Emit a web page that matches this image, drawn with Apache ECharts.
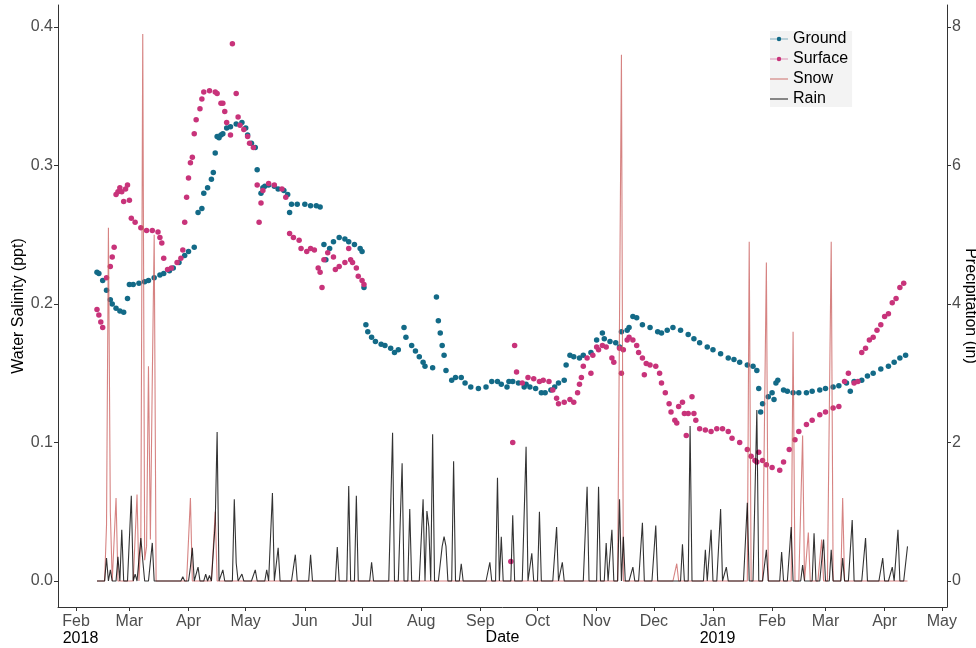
<!DOCTYPE html>
<html>
<head>
<meta charset="utf-8">
<title>Water salinity and precipitation</title>
<script src="https://cdn.jsdelivr.net/npm/echarts@6/dist/echarts.min.js"></script>
<style>
  html, body { margin: 0; padding: 0; background: #fff; }
  #chart { width: 976px; height: 648px; }
</style>
</head>
<body>
<div id="chart"></div>
<script>
// salinity readings (ppt)
const groundData = [
  ['2018-02-12', 0.223], ['2018-02-13', 0.222], ['2018-02-15', 0.217], ['2018-02-17', 0.210],
  ['2018-02-19', 0.203], ['2018-02-20', 0.200], ['2018-02-22', 0.197], ['2018-02-24', 0.195],
  ['2018-02-26', 0.194], ['2018-02-28', 0.204], ['2018-03-01', 0.214], ['2018-03-03', 0.214],
  ['2018-03-06', 0.215], ['2018-03-09', 0.216], ['2018-03-11', 0.217], ['2018-03-14', 0.219],
  ['2018-03-17', 0.221], ['2018-03-19', 0.222], ['2018-03-22', 0.224], ['2018-03-24', 0.226],
  ['2018-03-27', 0.230], ['2018-03-30', 0.235], ['2018-04-01', 0.238], ['2018-04-04', 0.241],
  ['2018-04-06', 0.266], ['2018-04-08', 0.269], ['2018-04-09', 0.280], ['2018-04-11', 0.284],
  ['2018-04-13', 0.290], ['2018-04-14', 0.295], ['2018-04-15', 0.309], ['2018-04-16', 0.321],
  ['2018-04-17', 0.320], ['2018-04-18', 0.322], ['2018-04-19', 0.323], ['2018-04-21', 0.327],
  ['2018-04-23', 0.328], ['2018-04-26', 0.330], ['2018-04-29', 0.331], ['2018-05-01', 0.327],
  ['2018-05-02', 0.322], ['2018-05-04', 0.316], ['2018-05-06', 0.313], ['2018-05-07', 0.297],
  ['2018-05-09', 0.280], ['2018-05-10', 0.284], ['2018-05-11', 0.285], ['2018-05-13', 0.286],
  ['2018-05-16', 0.285], ['2018-05-18', 0.283], ['2018-05-21', 0.282], ['2018-05-23', 0.279],
  ['2018-05-24', 0.266], ['2018-05-25', 0.272], ['2018-05-28', 0.272], ['2018-06-01', 0.272],
  ['2018-06-04', 0.271], ['2018-06-07', 0.271], ['2018-06-09', 0.270], ['2018-06-11', 0.243],
  ['2018-06-12', 0.232], ['2018-06-14', 0.240], ['2018-06-16', 0.245], ['2018-06-19', 0.248],
  ['2018-06-22', 0.247], ['2018-06-24', 0.245], ['2018-06-27', 0.243], ['2018-06-30', 0.240],
  ['2018-07-01', 0.238], ['2018-07-02', 0.212], ['2018-07-03', 0.185], ['2018-07-04', 0.180],
  ['2018-07-06', 0.176], ['2018-07-08', 0.173], ['2018-07-11', 0.171], ['2018-07-13', 0.170],
  ['2018-07-16', 0.168], ['2018-07-18', 0.165], ['2018-07-20', 0.167], ['2018-07-23', 0.183],
  ['2018-07-24', 0.176], ['2018-07-27', 0.170], ['2018-07-29', 0.166], ['2018-07-31', 0.162],
  ['2018-08-02', 0.158], ['2018-08-03', 0.155], ['2018-08-07', 0.154], ['2018-08-09', 0.205],
  ['2018-08-10', 0.188], ['2018-08-11', 0.179], ['2018-08-12', 0.170], ['2018-08-13', 0.163],
  ['2018-08-14', 0.152], ['2018-08-17', 0.145], ['2018-08-19', 0.147], ['2018-08-22', 0.147],
  ['2018-08-24', 0.143], ['2018-08-27', 0.140], ['2018-08-31', 0.139], ['2018-09-04', 0.140],
  ['2018-09-07', 0.144], ['2018-09-10', 0.144], ['2018-09-12', 0.142], ['2018-09-15', 0.140],
  ['2018-09-16', 0.144], ['2018-09-18', 0.144], ['2018-09-21', 0.143], ['2018-09-24', 0.140],
  ['2018-09-25', 0.142], ['2018-09-27', 0.140], ['2018-09-30', 0.139], ['2018-10-03', 0.136],
  ['2018-10-05', 0.136], ['2018-10-08', 0.138], ['2018-10-10', 0.140], ['2018-10-12', 0.143],
  ['2018-10-15', 0.145], ['2018-10-16', 0.156], ['2018-10-18', 0.163], ['2018-10-20', 0.162],
  ['2018-10-23', 0.161], ['2018-10-25', 0.163], ['2018-10-29', 0.165], ['2018-11-01', 0.174],
  ['2018-11-04', 0.179], ['2018-11-05', 0.175], ['2018-11-08', 0.173], ['2018-11-11', 0.172],
  ['2018-11-13', 0.169], ['2018-11-14', 0.180], ['2018-11-17', 0.181], ['2018-11-18', 0.183],
  ['2018-11-20', 0.191], ['2018-11-22', 0.190], ['2018-11-25', 0.185], ['2018-11-29', 0.183],
  ['2018-12-03', 0.180], ['2018-12-05', 0.179], ['2018-12-08', 0.181], ['2018-12-11', 0.183],
  ['2018-12-15', 0.181], ['2018-12-19', 0.178], ['2018-12-22', 0.175], ['2018-12-25', 0.172],
  ['2018-12-29', 0.169], ['2019-01-01', 0.167], ['2019-01-05', 0.164], ['2019-01-09', 0.161],
  ['2019-01-12', 0.160], ['2019-01-15', 0.158], ['2019-01-19', 0.156], ['2019-01-22', 0.155],
  ['2019-01-24', 0.152], ['2019-01-25', 0.139], ['2019-01-26', 0.122], ['2019-01-27', 0.128],
  ['2019-01-30', 0.133], ['2019-02-01', 0.136], ['2019-02-02', 0.131], ['2019-02-03', 0.143],
  ['2019-02-04', 0.145], ['2019-02-07', 0.138], ['2019-02-09', 0.137], ['2019-02-12', 0.136],
  ['2019-02-15', 0.136], ['2019-02-19', 0.136], ['2019-02-22', 0.137], ['2019-02-26', 0.138],
  ['2019-03-01', 0.139], ['2019-03-05', 0.140], ['2019-03-08', 0.141], ['2019-03-12', 0.143],
  ['2019-03-14', 0.137], ['2019-03-16', 0.144], ['2019-03-20', 0.145], ['2019-03-23', 0.148],
  ['2019-03-26', 0.150], ['2019-03-30', 0.153], ['2019-04-03', 0.155], ['2019-04-06', 0.158],
  ['2019-04-09', 0.161], ['2019-04-12', 0.163]
];

const surfaceData = [
  ['2018-02-12', 0.196], ['2018-02-13', 0.192], ['2018-02-14', 0.187], ['2018-02-15', 0.183],
  ['2018-02-17', 0.219], ['2018-02-19', 0.227], ['2018-02-20', 0.234], ['2018-02-21', 0.241],
  ['2018-02-22', 0.279], ['2018-02-23', 0.281], ['2018-02-24', 0.284], ['2018-02-25', 0.281],
  ['2018-02-26', 0.274], ['2018-02-27', 0.283], ['2018-02-28', 0.286], ['2018-03-01', 0.275],
  ['2018-03-02', 0.262], ['2018-03-04', 0.259], ['2018-03-07', 0.255], ['2018-03-10', 0.253],
  ['2018-03-13', 0.253], ['2018-03-16', 0.252], ['2018-03-17', 0.248], ['2018-03-18', 0.244],
  ['2018-03-19', 0.233], ['2018-03-21', 0.225], ['2018-03-23', 0.226], ['2018-03-26', 0.230],
  ['2018-03-28', 0.233], ['2018-03-29', 0.239], ['2018-03-30', 0.259], ['2018-03-31', 0.277],
  ['2018-04-01', 0.291], ['2018-04-02', 0.302], ['2018-04-03', 0.306], ['2018-04-04', 0.323],
  ['2018-04-05', 0.333], ['2018-04-07', 0.341], ['2018-04-08', 0.348], ['2018-04-09', 0.353],
  ['2018-04-12', 0.354], ['2018-04-15', 0.353], ['2018-04-16', 0.352], ['2018-04-18', 0.345],
  ['2018-04-19', 0.345], ['2018-04-20', 0.339], ['2018-04-21', 0.331], ['2018-04-23', 0.322],
  ['2018-04-24', 0.388], ['2018-04-26', 0.352], ['2018-04-27', 0.335], ['2018-04-28', 0.329],
  ['2018-04-30', 0.326], ['2018-05-02', 0.321], ['2018-05-03', 0.316], ['2018-05-05', 0.313],
  ['2018-05-07', 0.286], ['2018-05-08', 0.259], ['2018-05-09', 0.273], ['2018-05-10', 0.282],
  ['2018-05-13', 0.287], ['2018-05-16', 0.286], ['2018-05-20', 0.283], ['2018-05-22', 0.277],
  ['2018-05-24', 0.251], ['2018-05-26', 0.248], ['2018-05-29', 0.246], ['2018-05-30', 0.240],
  ['2018-06-02', 0.238], ['2018-06-04', 0.240], ['2018-06-06', 0.239], ['2018-06-08', 0.226],
  ['2018-06-09', 0.223], ['2018-06-10', 0.212], ['2018-06-11', 0.232], ['2018-06-13', 0.237],
  ['2018-06-16', 0.234], ['2018-06-17', 0.225], ['2018-06-19', 0.227], ['2018-06-22', 0.230],
  ['2018-06-24', 0.240], ['2018-06-25', 0.232], ['2018-06-26', 0.230], ['2018-06-28', 0.226],
  ['2018-06-29', 0.220], ['2018-07-01', 0.217], ['2018-07-02', 0.214],
  ['2018-09-17', 0.014], ['2018-09-18', 0.100], ['2018-09-19', 0.170], ['2018-09-20', 0.151],
  ['2018-09-23', 0.143], ['2018-09-26', 0.147], ['2018-09-29', 0.146], ['2018-10-02', 0.144],
  ['2018-10-04', 0.145], ['2018-10-07', 0.144], ['2018-10-09', 0.138], ['2018-10-11', 0.132],
  ['2018-10-12', 0.128], ['2018-10-15', 0.129], ['2018-10-18', 0.131], ['2018-10-20', 0.129],
  ['2018-10-22', 0.136], ['2018-10-23', 0.142], ['2018-10-24', 0.147], ['2018-10-25', 0.155],
  ['2018-10-27', 0.161], ['2018-10-29', 0.150], ['2018-10-30', 0.163], ['2018-11-01', 0.169],
  ['2018-11-02', 0.167], ['2018-11-04', 0.170], ['2018-11-06', 0.169], ['2018-11-09', 0.161],
  ['2018-11-10', 0.158], ['2018-11-13', 0.168], ['2018-11-14', 0.150], ['2018-11-15', 0.167],
  ['2018-11-17', 0.174], ['2018-11-18', 0.176], ['2018-11-20', 0.174], ['2018-11-22', 0.170],
  ['2018-11-23', 0.165], ['2018-11-25', 0.161], ['2018-11-26', 0.149], ['2018-11-27', 0.157],
  ['2018-11-29', 0.156], ['2018-12-02', 0.155], ['2018-12-04', 0.150], ['2018-12-05', 0.143],
  ['2018-12-07', 0.136], ['2018-12-09', 0.128], ['2018-12-10', 0.122], ['2018-12-12', 0.116],
  ['2018-12-13', 0.114], ['2018-12-14', 0.126], ['2018-12-16', 0.129], ['2018-12-17', 0.121],
  ['2018-12-18', 0.105], ['2018-12-19', 0.121], ['2018-12-21', 0.133], ['2018-12-22', 0.121],
  ['2018-12-23', 0.116], ['2018-12-25', 0.110], ['2018-12-28', 0.109], ['2018-12-31', 0.108],
  ['2019-01-03', 0.110], ['2019-01-06', 0.110], ['2019-01-09', 0.108], ['2019-01-11', 0.103],
  ['2019-01-15', 0.100], ['2019-01-19', 0.095], ['2019-01-21', 0.090], ['2019-01-23', 0.087],
  ['2019-01-24', 0.086], ['2019-01-25', 0.093], ['2019-01-27', 0.087], ['2019-01-29', 0.084],
  ['2019-02-01', 0.082], ['2019-02-05', 0.080], ['2019-02-07', 0.086], ['2019-02-10', 0.095],
  ['2019-02-13', 0.102], ['2019-02-15', 0.108], ['2019-02-19', 0.113], ['2019-02-22', 0.116],
  ['2019-02-26', 0.120], ['2019-03-01', 0.122], ['2019-03-05', 0.125], ['2019-03-08', 0.126],
  ['2019-03-11', 0.144], ['2019-03-13', 0.150], ['2019-03-16', 0.143], ['2019-03-18', 0.144],
  ['2019-03-20', 0.165], ['2019-03-22', 0.168], ['2019-03-24', 0.174], ['2019-03-26', 0.176],
  ['2019-03-28', 0.181], ['2019-03-30', 0.185], ['2019-04-01', 0.191], ['2019-04-03', 0.193],
  ['2019-04-05', 0.201], ['2019-04-07', 0.204], ['2019-04-09', 0.212], ['2019-04-11', 0.215]
];

// precipitation (in) on the days that had any; every other day of the record reads 0
const snowDays = [
  ['2018-02-17', 0.8], ['2018-02-18', 5.1], ['2018-02-19', 1.0], ['2018-02-22', 1.2],
  ['2018-03-05', 1.25], ['2018-03-07', 0.6], ['2018-03-08', 7.9], ['2018-03-09', 0.3],
  ['2018-03-10', 0.5], ['2018-03-11', 3.1], ['2018-03-12', 0.6], ['2018-03-13', 2.9],
  ['2018-03-14', 5.0], ['2018-04-02', 1.2], ['2018-04-15', 1.0], ['2018-11-14', 7.6],
  ['2018-12-13', 0.25], ['2019-01-20', 4.9], ['2019-01-29', 4.6], ['2019-02-12', 3.6],
  ['2019-02-17', 2.1], ['2019-02-20', 0.7], ['2019-02-27', 0.6], ['2019-03-04', 4.9],
  ['2019-03-10', 1.2]
];

const rainDays = [
  ['2018-02-17', 0.33], ['2018-02-19', 0.16], ['2018-02-23', 0.35], ['2018-02-25', 0.74],
  ['2018-03-02', 1.23], ['2018-03-04', 0.1], ['2018-03-07', 0.62], ['2018-03-08', 0.3],
  ['2018-03-13', 0.55], ['2018-03-29', 0.06], ['2018-04-02', 0.2], ['2018-04-03', 0.48],
  ['2018-04-06', 0.2], ['2018-04-10', 0.1], ['2018-04-12', 0.08], ['2018-04-15', 0.84],
  ['2018-04-16', 2.15], ['2018-04-19', 0.16], ['2018-04-25', 1.18], ['2018-04-26', 0.26],
  ['2018-04-29', 0.1], ['2018-05-06', 0.16], ['2018-05-12', 0.16], ['2018-05-15', 1.27],
  ['2018-05-18', 0.48], ['2018-05-27', 0.38], ['2018-06-04', 0.38], ['2018-06-18', 0.49],
  ['2018-06-24', 1.37], ['2018-06-28', 1.23], ['2018-07-06', 0.27], ['2018-07-17', 2.14],
  ['2018-07-22', 1.7], ['2018-07-26', 1.04], ['2018-08-02', 1.18], ['2018-08-04', 1.01],
  ['2018-08-05', 0.78], ['2018-08-07', 2.12], ['2018-08-12', 0.5], ['2018-08-13', 0.64],
  ['2018-08-14', 0.5], ['2018-08-18', 1.73], ['2018-08-22', 0.25], ['2018-09-06', 0.27],
  ['2018-09-10', 1.49], ['2018-09-12', 0.64], ['2018-09-18', 0.95], ['2018-09-25', 1.94],
  ['2018-09-28', 0.4], ['2018-10-02', 1.0], ['2018-10-11', 0.78], ['2018-10-14', 0.27],
  ['2018-10-27', 1.36], ['2018-11-02', 1.36], ['2018-11-06', 0.55], ['2018-11-09', 0.74],
  ['2018-11-13', 1.18], ['2018-11-15', 0.64], ['2018-11-20', 0.2], ['2018-11-25', 0.84],
  ['2018-12-02', 0.8], ['2018-12-16', 0.53], ['2018-12-20', 2.24], ['2018-12-28', 0.45],
  ['2018-12-31', 0.74], ['2019-01-05', 1.04], ['2019-01-08', 0.2], ['2019-01-19', 1.13],
  ['2019-01-24', 2.47], ['2019-01-29', 0.45], ['2019-02-06', 0.42], ['2019-02-11', 0.78],
  ['2019-02-17', 0.23], ['2019-02-23', 0.69], ['2019-02-28', 0.6], ['2019-03-04', 0.45],
  ['2019-03-10', 0.33], ['2019-03-15', 0.88], ['2019-03-22', 0.62], ['2019-03-31', 0.33],
  ['2019-04-05', 0.2], ['2019-04-08', 0.74], ['2019-04-13', 0.5]
];

const recordStart = '2018-02-12';
const recordEnd = '2019-04-13';

// month ticks on the date axis
const xTickDates = [
  '2018-02-01', '2018-03-01', '2018-04-01', '2018-05-01', '2018-06-01', '2018-07-01',
  '2018-08-01', '2018-09-01', '2018-10-01', '2018-11-01', '2018-12-01', '2019-01-01',
  '2019-02-01', '2019-03-01', '2019-04-01', '2019-05-01'
];
const monthNames = ['Jan', 'Feb', 'Mar', 'Apr', 'May', 'Jun', 'Jul', 'Aug', 'Sep', 'Oct', 'Nov', 'Dec'];
const salinityTicks = [0, 0.1, 0.2, 0.3, 0.4];
const precipTicks = [0, 2, 4, 6, 8];

function toTime(s) {
  const p = s.split('-').map(Number);
  return new Date(p[0], p[1] - 1, p[2]).getTime();
}
function dayKey(d) {
  const m = String(d.getMonth() + 1).padStart(2, '0');
  const dd = String(d.getDate()).padStart(2, '0');
  return d.getFullYear() + '-' + m + '-' + dd;
}
function asPoints(list) {
  return list.map(function (r) { return [toTime(r[0]), r[1]]; });
}
// daily record: the listed days, 0 on the rest
function dailyRecord(list) {
  const byDay = {};
  list.forEach(function (r) { byDay[r[0]] = r[1]; });
  const out = [];
  const d = new Date(toTime(recordStart));
  const end = toTime(recordEnd);
  while (d.getTime() <= end) {
    const k = dayKey(d);
    out.push([d.getTime(), byDay[k] || 0]);
    d.setDate(d.getDate() + 1);
  }
  return out;
}

const font = 'Liberation Sans, Arial, sans-serif';
const tickGrey = '#4d4d4d';
const xTicks = xTickDates.map(toTime);

const dotIcon = 'path://M0,2.1H7.6V2.9H0Z M12.4,2.1H20V2.9H12.4Z M7.5,2.5A2.5,2.5,0,1,0,12.5,2.5A2.5,2.5,0,1,0,7.5,2.5Z';
const lineIcon = 'path://M0,0H20V1H0Z';

const chart = echarts.init(document.getElementById('chart'));
chart.setOption({
  animation: false,
  backgroundColor: '#fff',
  grid: { left: 58, right: 29, top: 5, bottom: 41, containLabel: false, outerBoundsMode: 'none' },
  legend: {
    orient: 'vertical',
    left: 770,
    top: 31,
    padding: [0, 4, 0, 0],
    backgroundColor: '#f3f3f3',
    itemWidth: 18,
    itemHeight: 14,
    itemGap: 4,
    textStyle: { fontFamily: font, fontSize: 16, color: '#000', lineHeight: 14 },
    data: [
      { name: 'Ground', icon: dotIcon },
      { name: 'Surface', icon: dotIcon },
      { name: 'Snow', icon: lineIcon },
      { name: 'Rain', icon: lineIcon }
    ]
  },
  xAxis: {
    type: 'value',
    min: toTime('2018-01-22') + 13.5 * 3600e3,
    max: toTime('2019-05-03') + 17 * 3600e3,
    name: 'Date',
    nameLocation: 'middle',
    nameGap: 22,
    nameMoveOverlap: false,
    nameTextStyle: { fontFamily: font, fontSize: 16, color: '#000', lineHeight: 17, verticalAlign: 'top' },
    axisLine: { show: true, onZero: false, lineStyle: { color: '#333', width: 1 } },
    axisTick: { show: true, length: 4, lineStyle: { color: '#333' }, customValues: xTicks },
    splitLine: { show: false },
    axisLabel: {
      customValues: xTicks,
      margin: 6,
      fontFamily: font,
      fontSize: 16,
      lineHeight: 17,
      color: tickGrey,
      formatter: function (value) {
        const d = new Date(value);
        const m = monthNames[d.getMonth()];
        if (d.getMonth() === 0 || value === xTicks[0]) {
          return m + '\n{y|' + d.getFullYear() + '}';
        }
        return m;
      },
      rich: {
        y: { fontFamily: font, fontSize: 16, lineHeight: 17, color: '#000', padding: [0, 0, 0, 9] }
      }
    }
  },
  yAxis: [
    {
      type: 'value',
      min: -0.01877,
      max: 0.4159,
      name: 'Water Salinity (ppt)',
      nameLocation: 'middle',
      nameGap: 31,
      nameMoveOverlap: false,
      nameTextStyle: { fontFamily: font, fontSize: 16, color: '#000' },
      axisLine: { show: true, onZero: false, lineStyle: { color: '#333', width: 1 } },
      axisTick: { show: true, length: 4, lineStyle: { color: '#333' }, customValues: salinityTicks },
      splitLine: { show: false },
      axisLabel: {
        customValues: salinityTicks,
        margin: 5,
        fontFamily: font,
        fontSize: 16,
        color: tickGrey,
        formatter: function (v) { return v.toFixed(1); }
      }
    },
    {
      type: 'value',
      position: 'right',
      min: -0.3754,
      max: 8.318,
      name: 'Precipitation (in)',
      nameLocation: 'middle',
      nameRotate: -90,
      nameGap: 15,
      nameMoveOverlap: false,
      nameTextStyle: { fontFamily: font, fontSize: 16, color: '#000' },
      axisLine: { show: true, onZero: false, lineStyle: { color: '#333', width: 1 } },
      axisTick: { show: true, length: 4, lineStyle: { color: '#333' }, customValues: precipTicks },
      splitLine: { show: false },
      axisLabel: {
        customValues: precipTicks,
        margin: 5,
        fontFamily: font,
        fontSize: 16,
        color: tickGrey
      }
    }
  ],
  series: [
    {
      name: 'Ground',
      type: 'scatter',
      yAxisIndex: 0,
      symbolSize: 5.5,
      itemStyle: { color: '#136a87', opacity: 1 },
      data: asPoints(groundData),
      z: 2
    },
    {
      name: 'Surface',
      type: 'scatter',
      yAxisIndex: 0,
      symbolSize: 5.5,
      itemStyle: { color: '#c8337a', opacity: 1 },
      data: asPoints(surfaceData),
      z: 2
    },
    {
      name: 'Snow',
      type: 'line',
      yAxisIndex: 1,
      symbol: 'none',
      itemStyle: { color: '#c9605c' },
      lineStyle: { color: 'rgba(200,90,88,0.75)', width: 1.1 },
      data: dailyRecord(snowDays),
      z: 3
    },
    {
      name: 'Rain',
      type: 'line',
      yAxisIndex: 1,
      symbol: 'none',
      itemStyle: { color: '#000' },
      lineStyle: { color: 'rgba(0,0,0,0.8)', width: 1.1 },
      data: dailyRecord(rainDays),
      z: 4
    }
  ]
});
</script>
</body>
</html>
